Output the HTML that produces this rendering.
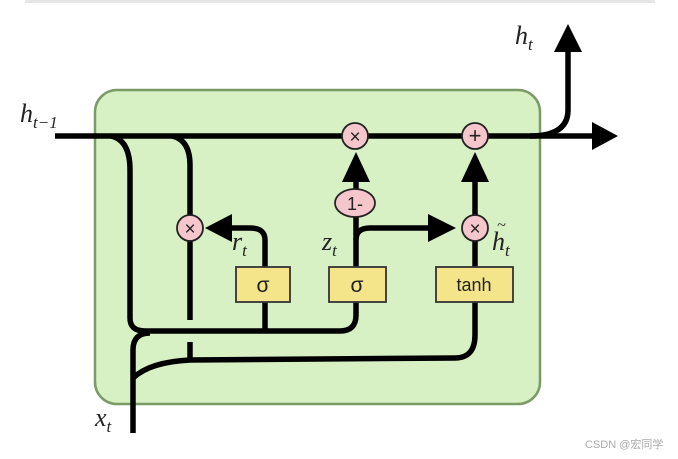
<!DOCTYPE html>
<html><head><meta charset="utf-8"><style>
html,body{margin:0;padding:0;background:#fff;}
svg{display:block}
.lbl{font-family:"Liberation Serif",serif;font-style:italic;fill:#222}
</style></head><body>
<svg width="678" height="459" viewBox="0 0 678 459" xmlns="http://www.w3.org/2000/svg">
<line x1="25" y1="1.5" x2="655" y2="1.5" stroke="#e6e6e6" stroke-width="3"/>
<rect x="95" y="90" width="445" height="314" rx="22" fill="#d7f0c4" stroke="#7a9a68" stroke-width="2.5"/>
<g fill="none" stroke="#000" stroke-width="5.5" stroke-linecap="butt">
<!-- main line -->
<line x1="55" y1="136" x2="592" y2="136"/>
<path d="M530 136 Q568 136 568 110 L568 52"/>
<!-- left loops -->
<path d="M111 136 Q130 140 130 170 L130 318 Q130 331 145 331 L340 331 Q356 331 356 315 L356 302"/>
<path d="M265 302 L265 331"/>
<path d="M172 136 Q190 140 190 165 L190 320"/>
<path d="M190 342 L190 360"/>
<!-- x_t -->
<path d="M133 433 L133 350 Q133 333 150 333"/>
<path d="M133 378 Q150 362 190 360 L455 358 Q475 358 475 335 L475 302"/>
<!-- r_t -->
<path d="M265 267 L265 240 Q265 228 250 228 L232 228"/>
<!-- z_t -->
<path d="M356 267 L356 217"/>
<path d="M356 240 Q356 228 370 228 L430 228"/>
<path d="M356 189 L356 180"/>
<!-- tanh -->
<path d="M475 267 L475 241"/>
<path d="M475 215 L475 180"/>
</g>
<!-- arrowheads -->
<polygon points="592,122 618,136 592,150" fill="#000"/>
<polygon points="554,52 568,24 582,52" fill="#000"/>
<polygon points="342,182 356,152 370,182" fill="#000"/>
<polygon points="461,182 475,152 489,182" fill="#000"/>
<polygon points="232,214 205,228 232,242" fill="#000"/>
<polygon points="428,214 456,228 428,242" fill="#000"/>
<!-- nodes -->
<g fill="#f5c6cc" stroke="#222" stroke-width="1.8">
<circle cx="355" cy="136" r="13"/>
<circle cx="475" cy="136" r="13"/>
<circle cx="190" cy="228" r="13"/>
<circle cx="475" cy="228" r="13"/>
<ellipse cx="355" cy="203" rx="20" ry="14"/>
</g>
<g font-family="Liberation Sans,sans-serif" fill="#222" text-anchor="middle">
<text x="355" y="143" font-size="19">×</text>
<text x="475" y="143" font-size="22">+</text>
<text x="190" y="235" font-size="19">×</text>
<text x="475" y="235" font-size="19">×</text>
<text x="355" y="210" font-size="18">1-</text>
</g>
<g fill="#f4e58a" stroke="#333" stroke-width="1.8">
<rect x="236" y="267" width="54" height="35"/>
<rect x="329" y="267" width="57" height="35"/>
<rect x="436" y="267" width="77" height="35"/>
</g>
<g font-family="Liberation Sans,sans-serif" fill="#222" text-anchor="middle" font-size="21">
<text x="263" y="292">σ</text>
<text x="357" y="292">σ</text>
<text x="474" y="291" font-size="18">tanh</text>
</g>
<text class="lbl" x="20" y="122" font-size="26">h<tspan font-size="17" dy="6">t−1</tspan></text>
<text class="lbl" x="515" y="44" font-size="26">h<tspan font-size="17" dy="6">t</tspan></text>
<text class="lbl" x="95" y="426" font-size="26">x<tspan font-size="17" dy="6">t</tspan></text>
<text class="lbl" x="232" y="250" font-size="26">r<tspan font-size="17" dy="6">t</tspan></text>
<text class="lbl" x="322" y="250" font-size="26">z<tspan font-size="17" dy="6">t</tspan></text>
<text class="lbl" x="492" y="250" font-size="26">h<tspan font-size="17" dy="6">t</tspan></text>
<text class="lbl" x="497" y="230" font-size="16">~</text>
<text x="585" y="448" font-family="Liberation Sans,'Noto Sans CJK SC',sans-serif" font-size="11" fill="#aaa">CSDN @宏同学</text>
</svg>
</body></html>
